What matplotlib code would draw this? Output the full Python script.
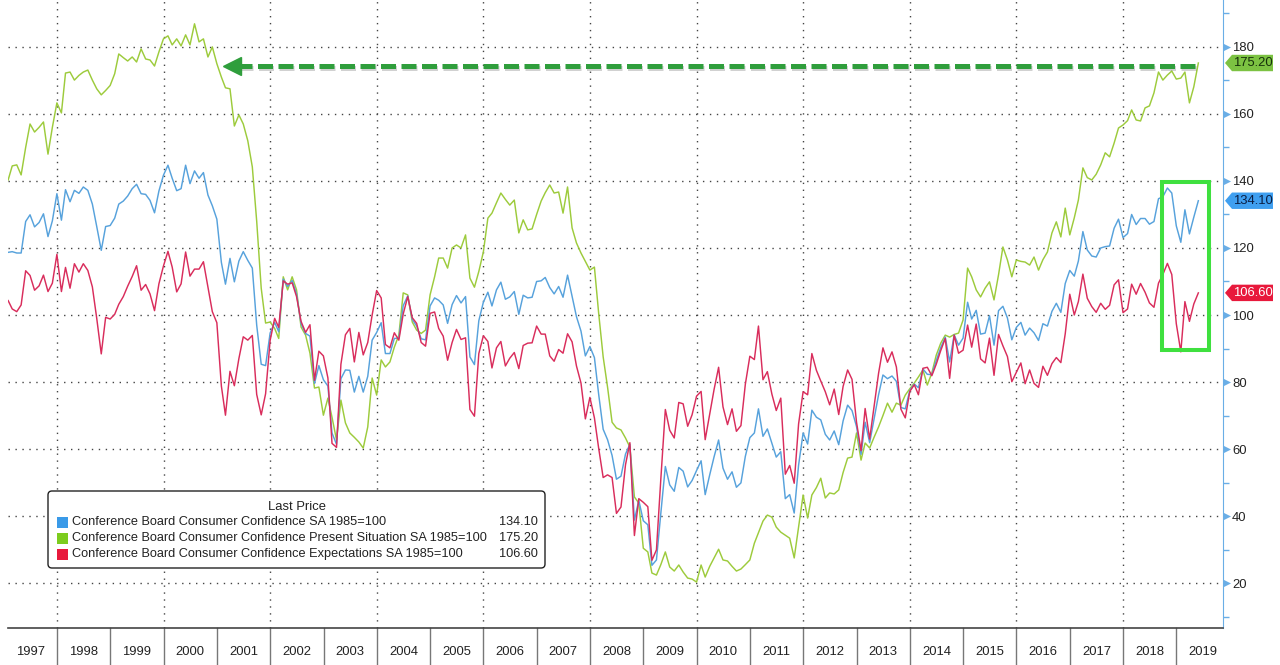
import numpy as np
import pandas as pd
import matplotlib
matplotlib.use('Agg')
import matplotlib.pyplot as plt
import matplotlib.patches as mpatches
import matplotlib.transforms as mtransforms
import matplotlib.patheffects as pe
import matplotlib.dates as mdates
from matplotlib.lines import Line2D

plt.rcParams['font.family'] = ['Liberation Sans', 'DejaVu Sans']

# monthly values, Jan 1997 .. May 2019
headline = [
    118.7, 118.9, 118.5, 118.5, 127.9, 129.9, 126.3, 127.6, 130.2, 123.4, 128.1, 136.2,
    128.3, 137.4, 133.8, 137.2, 136.3, 138.2, 137.2, 133.1, 126.4, 119.3, 126.4, 126.7,
    128.9, 133.1, 134.0, 135.5, 137.7, 139.0, 136.2, 136.0, 134.2, 130.5, 137.0, 141.7,
    144.7, 140.8, 137.1, 137.7, 144.7, 139.2, 143.0, 140.8, 142.5, 135.8, 132.6, 128.6,
    115.7, 109.2, 116.9, 109.9, 116.1, 118.9, 116.3, 114.0, 97.0, 85.3, 84.9, 94.6,
    97.8, 95.0, 110.7, 108.5, 110.3, 106.3, 97.4, 94.5, 93.7, 79.6, 84.9, 80.7,
    78.8, 64.8, 61.4, 81.0, 83.6, 83.5, 77.0, 81.7, 77.0, 81.7, 92.5, 94.8,
    97.7, 88.5, 88.5, 93.0, 93.1, 102.8, 105.7, 98.7, 96.7, 92.9, 92.6, 102.7,
    105.1, 104.4, 103.0, 97.5, 103.1, 105.8, 103.6, 105.5, 87.5, 85.2, 98.3, 103.8,
    106.8, 102.7, 107.5, 109.8, 104.7, 105.4, 107.0, 100.2, 105.9, 105.1, 105.3, 110.0,
    110.2, 111.2, 108.2, 106.3, 108.5, 105.3, 111.9, 105.6, 99.5, 95.2, 87.8, 90.6,
    87.3, 76.4, 65.9, 62.8, 58.1, 51.0, 51.9, 58.5, 61.4, 38.8, 44.7, 38.6,
    37.4, 25.3, 26.9, 40.8, 54.8, 49.3, 47.4, 54.5, 53.4, 48.7, 50.6, 53.6,
    56.5, 46.4, 52.3, 57.7, 62.7, 54.3, 51.0, 53.2, 48.6, 49.9, 57.8, 63.4,
    64.8, 72.0, 63.8, 66.0, 61.7, 57.6, 59.2, 45.2, 46.4, 40.9, 55.2, 64.8,
    61.5, 71.6, 69.5, 68.7, 64.4, 62.7, 65.4, 61.3, 68.4, 73.1, 71.5, 66.7,
    58.4, 68.0, 61.9, 69.0, 76.2, 82.1, 81.0, 81.8, 80.2, 72.4, 72.0, 77.5,
    79.4, 78.3, 83.9, 82.3, 82.2, 86.4, 90.3, 93.4, 86.0, 94.1, 91.0, 93.1,
    103.8, 98.8, 101.4, 94.3, 94.6, 99.8, 91.0, 101.3, 102.6, 99.1, 92.6, 96.3,
    97.8, 94.0, 96.1, 94.7, 92.4, 97.4, 96.7, 101.1, 103.5, 100.8, 109.4, 113.3,
    111.6, 116.1, 124.9, 119.4, 117.6, 117.3, 120.0, 120.4, 120.6, 125.9, 128.6, 123.1,
    124.3, 130.0, 127.0, 128.8, 128.8, 127.1, 127.9, 134.7, 135.3, 137.9, 136.4, 126.6,
    121.7, 131.4, 124.2, 129.2, 134.1,
]

present = [
    140.3, 144.5, 144.8, 141.8, 150.0, 157.0, 154.6, 156.0, 157.6, 148.0, 156.0, 163.3,
    160.3, 172.2, 172.5, 170.1, 171.5, 172.5, 173.1, 170.1, 167.5, 165.7, 167.0, 168.5,
    172.0, 177.9, 176.8, 175.8, 177.0, 175.5, 179.4, 176.4, 176.1, 174.3, 178.5, 182.4,
    183.3, 180.6, 182.4, 180.3, 183.6, 180.6, 186.9, 181.5, 182.4, 177.0, 180.0, 175.0,
    171.0, 167.8, 167.5, 156.4, 159.7, 157.0, 152.0, 144.2, 128.0, 108.0, 97.6, 97.9,
    96.0, 93.0, 111.4, 107.5, 111.4, 107.5, 96.4, 94.0, 88.6, 78.2, 78.5, 70.1,
    75.2, 69.5, 62.7, 74.6, 67.8, 64.8, 63.5, 62.1, 60.3, 66.6, 81.2, 76.1,
    86.6, 84.5, 86.0, 90.4, 94.0, 106.6, 106.0, 97.9, 95.5, 94.5, 95.5, 106.0,
    111.4, 117.0, 117.0, 114.0, 120.0, 120.9, 120.0, 123.9, 111.0, 108.3, 113.0, 118.8,
    128.9, 130.4, 133.5, 136.4, 134.5, 132.8, 134.3, 124.5, 128.4, 125.4, 125.7, 130.0,
    134.0, 136.5, 138.8, 136.4, 136.7, 130.4, 138.2, 126.0, 121.5, 118.5, 116.0, 113.4,
    114.3, 100.6, 87.5, 78.5, 68.0, 66.3, 65.7, 63.3, 60.6, 45.7, 43.9, 30.4,
    29.3, 23.0, 22.4, 25.5, 29.3, 24.8, 23.6, 25.4, 23.3, 21.5, 21.2, 20.3,
    25.4, 21.8, 25.0, 27.5, 30.1, 26.9, 26.6, 25.0, 23.6, 24.2, 25.5, 26.9,
    31.9, 35.0, 38.5, 40.3, 39.7, 36.7, 35.2, 34.3, 33.4, 27.5, 36.7, 46.3,
    39.4, 46.3, 48.5, 51.3, 45.4, 46.9, 46.6, 47.8, 53.0, 57.3, 57.6, 64.8,
    56.7, 61.8, 60.3, 63.5, 66.6, 70.0, 73.7, 71.0, 73.7, 73.1, 76.1, 78.0,
    79.7, 81.5, 83.6, 79.1, 82.7, 88.0, 91.6, 94.0, 93.4, 94.2, 94.6, 98.5,
    114.0, 111.4, 107.5, 105.4, 108.0, 109.9, 104.5, 112.0, 120.3, 116.4, 111.4, 116.4,
    116.0, 115.8, 114.9, 117.3, 113.4, 116.5, 118.8, 124.5, 127.8, 123.3, 131.9, 123.9,
    129.0, 134.3, 143.9, 141.0, 140.3, 142.0, 144.8, 148.4, 147.2, 151.3, 155.8, 156.7,
    158.0, 161.2, 158.2, 157.9, 161.8, 162.4, 166.3, 172.5, 170.1, 171.6, 172.8, 170.4,
    170.7, 172.5, 163.3, 168.1, 175.2,
]

expectations = [
    104.3, 101.8, 101.0, 103.0, 113.2, 111.8, 107.4, 108.7, 111.9, 107.0, 109.5, 118.1,
    107.0, 114.2, 108.0, 115.3, 112.8, 115.3, 113.3, 108.4, 99.0, 88.4, 99.3, 98.8,
    100.2, 103.2, 105.5, 108.6, 111.5, 114.7, 107.4, 109.1, 106.3, 101.3, 109.3, 114.6,
    119.0, 114.3, 106.9, 109.3, 118.8, 111.6, 113.7, 113.7, 115.9, 108.3, 101.0, 97.7,
    78.8, 70.1, 83.2, 78.9, 87.0, 93.5, 92.5, 93.9, 76.3, 70.2, 76.5, 92.4,
    99.0, 96.3, 110.2, 109.2, 109.6, 105.5, 98.1, 94.8, 97.1, 80.5, 89.2, 87.8,
    81.2, 61.7, 60.5, 85.3, 94.1, 96.0, 86.0, 94.8, 88.1, 91.8, 100.0, 107.3,
    105.1, 91.2, 90.2, 94.7, 92.5, 100.3, 105.5, 99.2, 97.5, 91.8, 90.7, 100.5,
    100.9, 96.0, 93.7, 86.5, 91.8, 95.7, 92.7, 93.2, 71.8, 69.8, 88.5, 93.8,
    92.1, 84.2, 90.2, 92.1, 84.8, 87.1, 88.8, 84.0, 90.9, 91.6, 91.7, 96.7,
    94.3, 94.3, 87.8, 86.2, 89.7, 88.6, 94.4, 92.0, 84.8, 79.7, 69.0, 75.4,
    69.3, 60.3, 51.5, 52.3, 51.5, 40.8, 42.7, 55.3, 61.9, 34.2, 45.2, 44.1,
    42.8, 26.8, 29.9, 51.0, 71.8, 65.6, 63.3, 73.9, 73.5, 66.8, 70.2, 75.8,
    77.2, 62.8, 70.5, 77.8, 84.4, 72.6, 67.3, 72.0, 65.3, 67.0, 79.3, 87.7,
    86.7, 96.7, 80.7, 83.1, 76.4, 71.5, 75.2, 52.5, 55.1, 49.8, 67.5, 77.1,
    76.2, 88.5, 83.5, 80.3, 77.1, 73.2, 77.9, 70.3, 78.7, 83.6, 80.8, 68.0,
    59.5, 72.1, 63.0, 72.7, 82.6, 90.2, 85.9, 89.0, 84.5, 71.9, 69.3, 77.2,
    79.2, 76.2, 84.1, 84.4, 81.9, 85.3, 89.4, 93.0, 81.1, 94.0, 88.6, 89.5,
    97.0, 90.4, 97.3, 86.9, 85.7, 93.1, 82.0, 94.2, 90.8, 87.6, 80.1, 82.9,
    85.7, 79.5, 83.6, 79.6, 78.4, 84.7, 82.0, 85.5, 87.3, 85.8, 94.4, 106.2,
    100.0, 104.0, 112.2, 105.0, 102.5, 100.8, 103.5, 101.7, 102.9, 109.0, 110.5, 100.7,
    101.8, 109.2, 106.2, 109.4, 106.8, 103.6, 102.3, 109.5, 112.1, 115.4, 112.1, 97.4,
    89.0, 104.0, 98.1, 103.3, 106.6,
]

labels = ['Conference Board Consumer Confidence SA 1985=100',
          'Conference Board Consumer Confidence Present Situation SA 1985=100',
          'Conference Board Consumer Confidence Expectations SA 1985=100']
last_values = [134.10, 175.20, 106.60]

c_blue = '#57a2dc'
c_green = '#9dcb3c'
c_red = '#d92d5c'
axis_blue = '#6aaee6'
fs = 9.4

W, H = 1280, 665
fig = plt.figure(figsize=(W / 100, H / 100), dpi=100, facecolor='white')
ax = fig.add_axes([8 / W, (H - 628) / H, (1223 - 8) / W, 628 / H])
# pixel coords (origin top-left) -> display
pxT = mtransforms.Affine2D().scale(1.0 / W, -1.0 / H).translate(0, 1) + fig.transFigure
tr = mtransforms.blended_transform_factory(pxT, ax.transData)

x = mdates.date2num(pd.date_range('1997-01-31', periods=len(headline), freq='ME'))


def yr(s):
    return mdates.date2num(pd.Timestamp(s))


ax.plot(x, present, color=c_green, lw=1.05, zorder=2)
ax.plot(x, headline, color=c_blue, lw=1.05, zorder=3)
ax.plot(x, expectations, color=c_red, lw=1.05, zorder=4)

ax.set_xlim(yr('1997-01-30'), yr('2019-11-16'))
ax.set_ylim(6.6, 194)

# grid
ax.set_xticks([yr(f'{y}-01-01') for y in range(1998, 2019, 2)])
ax.set_yticks(range(20, 181, 20))
ax.set_yticks(range(10, 191, 20), minor=True)
ax.grid(True, which='major', color='#444444', lw=1.0, linestyle=(0, (1, 4)))
ax.tick_params(axis='x', length=0, labelbottom=False)
ax.yaxis.tick_right()
ax.tick_params(axis='y', which='major', length=0, pad=6.5, labelsize=fs, labelcolor='#222222')
ax.tick_params(axis='y', which='minor', length=4, width=1, color=axis_blue)
for s in ['top', 'left']:
    ax.spines[s].set_visible(False)
ax.spines['right'].set_color(axis_blue)
ax.spines['bottom'].set_color('#444444')
ax.spines['bottom'].set_linewidth(1.2)
ax.scatter(np.full(9, 1.003), range(20, 181, 20), marker='>', s=26, color=axis_blue,
           transform=ax.get_yaxis_transform(), clip_on=False, zorder=5, linewidths=0)

# year labels and separators below the axis
bt = mtransforms.blended_transform_factory(ax.transData, fig.transFigure)
for y in range(1997, 2020):
    ax.text(yr(f'{y}-07-02'), 1 - 652 / H, str(y), transform=bt, ha='center', va='center',
            fontsize=fs, color='#222222', clip_on=False)
for y in range(1998, 2020):
    ax.plot([yr(f'{y}-01-01')] * 2, [1 - 628 / H, 1 - 665 / H], transform=bt,
            color='#777777', lw=1, clip_on=False)

# last value tags
for val, face, tc in [(175.20, '#7cc242', '#15300a'), (134.10, '#3f9ff0', '#0b1f44'),
                      (106.60, '#e8193c', 'white')]:
    h = 2.45
    verts = [(1225, val), (1232, val + h), (1273, val + h), (1273, val - h), (1232, val - h)]
    fig.add_artist(mpatches.Polygon(verts, closed=True, transform=tr, facecolor=face,
                                    edgecolor='none', zorder=6))
    fig.text(1252.5, val, f'{val:.2f}', transform=tr, ha='center', va='center', fontsize=fs,
             color=tc, zorder=7)

# dashed arrow back to the 2000 peak
arrow_y = 174.4
shadow = [pe.SimpleLineShadow(offset=(1, -2), alpha=0.18), pe.Normal()]
fig.add_artist(Line2D([237, 1196], [arrow_y, arrow_y], transform=tr, lw=3.6, color='#2f9e3c',
                      linestyle=(0, (3, 1.1)), path_effects=shadow, zorder=8))
fig.add_artist(Line2D([232], [arrow_y], transform=tr, marker='<', markersize=13,
                      color='#2f9e3c', linestyle='none', zorder=8))

# highlight box on 2018-2019
fig.add_artist(mpatches.Rectangle((1162, 89.6), 47, 50.2, transform=tr, fill=False,
                                  edgecolor='#3fe03f', lw=2.9, zorder=8))

# legend box
fig.add_artist(mpatches.FancyBboxPatch((48, 491), 497, 77, boxstyle='round,pad=0,rounding_size=4',
                                       transform=pxT, facecolor='white', edgecolor='#222222',
                                       lw=1.0, zorder=9))
fig.text(297, 507, 'Last Price', transform=pxT, ha='center', va='center', fontsize=fs,
         color='#222222', zorder=10)
for k, (lab, val, col) in enumerate(zip(labels, last_values, ['#3a9ae8', '#7ccc1e', '#e8193c'])):
    yy = 522 + 16 * k
    fig.add_artist(mpatches.Rectangle((57, yy - 5.5), 11, 11, transform=pxT, facecolor=col,
                                      edgecolor='none', zorder=10))
    fig.text(72, yy, lab, transform=pxT, ha='left', va='center', fontsize=9.2,
             color='#222222', zorder=10)
    fig.text(538, yy, f'{val:.2f}', transform=pxT, ha='right', va='center', fontsize=9.2,
             color='#222222', zorder=10)

fig.savefig('out.png', dpi=100, facecolor='white')
